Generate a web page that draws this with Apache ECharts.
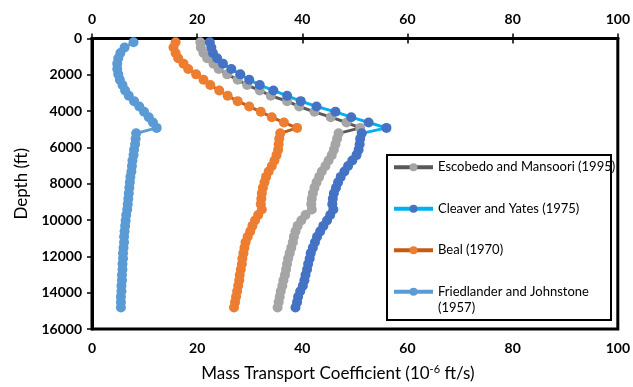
<!DOCTYPE html>
<html>
<head>
<meta charset="utf-8">
<script src="https://cdn.jsdelivr.net/npm/echarts@6/dist/echarts.min.js"></script>
<style>
  html, body { margin: 0; padding: 0; background: #fff; }
  #chart { width: 633px; height: 387px; }
</style>
</head>
<body>
<div id="chart"></div>
<script>
// Depth of each sample (ft)
var depths = [
  200, 495, 790, 1085, 1380, 1675, 1970, 2265, 2560, 2855, 3150, 3445, 3740, 4035, 4330, 4625, 4920,
  5220, 5520, 5820, 6120, 6420, 6720, 7020, 7320, 7620, 7920, 8220, 8520, 8820, 9120, 9420, 9720,
  10020, 10320, 10620, 10920, 11220, 11520, 11820, 12120, 12420, 12720, 13020, 13320, 13620, 13920,
  14220, 14520, 14820
];

// Mass transport coefficient per correlation (1e-6 ft/s)
var escobedo = [
  20.6, 20.7, 21.2, 21.9, 23.1, 24.1, 25.7, 27.7, 29.5, 31.9, 34.0, 37.1, 39.4, 42.3, 45.4, 48.4, 51.0,
  46.9, 46.6, 46.3, 46.0, 45.6, 45.0, 44.4, 43.7, 43.2, 42.7, 42.3, 42.0, 41.8, 41.7, 41.8, 40.6,
  39.8, 39.1, 38.7, 38.4, 38.2, 37.9, 37.6, 37.3, 37.1, 36.9, 36.7, 36.4, 36.2, 35.9,
  35.7, 35.5, 35.3
];
var cleaver = [
  22.4, 22.7, 23.0, 23.8, 24.9, 26.5, 28.2, 29.9, 31.9, 34.5, 37.1, 39.7, 42.7, 46.3, 49.3, 52.6, 56.0,
  51.3, 51.0, 50.9, 50.7, 50.3, 49.5, 48.7, 48.0, 47.3, 46.8, 46.4, 46.0, 45.8, 45.7, 45.9, 45.3,
  44.7, 44.0, 43.4, 42.8, 42.4, 42.0, 41.6, 41.4, 41.1, 40.9, 40.6, 40.4, 40.1, 39.6,
  39.2, 39.0, 38.7
];
var beal = [
  15.9, 15.5, 15.9, 16.4, 17.4, 18.3, 19.8, 21.2, 22.5, 24.2, 25.8, 27.7, 29.9, 32.1, 34.2, 36.5, 39.0,
  35.8, 35.6, 35.5, 35.4, 35.1, 34.7, 34.2, 33.6, 33.1, 32.8, 32.5, 32.3, 32.2, 32.1, 32.3, 31.6,
  31.0, 30.5, 30.1, 29.6, 29.2, 29.0, 28.8, 28.6, 28.5, 28.3, 28.1, 28.0, 27.8, 27.6,
  27.4, 27.2, 27.0
];
var friedlander = [
  7.9, 6.2, 5.4, 5.0, 4.8, 4.8, 5.0, 5.3, 5.8, 6.3, 7.0, 8.0, 9.0, 9.9, 10.8, 11.6, 12.3,
  8.4, 8.3, 8.2, 8.0, 7.9, 7.7, 7.6, 7.5, 7.3, 7.2, 7.1, 7.0, 6.9, 6.8, 6.7, 6.5,
  6.4, 6.3, 6.2, 6.1, 6.1, 6.0, 5.9, 5.9, 5.8, 5.8, 5.7, 5.7, 5.6, 5.6,
  5.5, 5.5, 5.5
];

var seriesNames = [
  'Escobedo and Mansoori (1995)',
  'Cleaver and Yates (1975)',
  'Beal (1970)',
  'Friedlander and Johnstone (1957)'
];

// x ticks, depth ticks
var xTicks = [0, 20, 40, 60, 80, 100];
var depthTicks = [0, 2000, 4000, 6000, 8000, 10000, 12000, 14000, 16000];

var FONT = 'Lato, "Open Sans", sans-serif';

function pairs(vals) {
  return vals.map(function (v, i) { return [v, depths[i]]; });
}

function lineSeries(name, vals, lineColor, markColor) {
  return {
    name: name,
    type: 'line',
    data: pairs(vals),
    symbol: 'circle',
    symbolSize: 10,
    showSymbol: true,
    lineStyle: { color: lineColor, width: 3 },
    itemStyle: { color: markColor },
    emphasis: { disabled: true }
  };
}

var labelStyle = { fontFamily: FONT, fontSize: 14, fontWeight: 'bold', color: '#000' };
var axisLineStyle = { show: true, lineStyle: { color: '#000', width: 3 } };
var tickStyle = { show: true, inside: false, length: 5, lineStyle: { color: '#000', width: 1.5 } };
var legendText = { fontFamily: FONT, fontSize: 13, color: '#000', lineHeight: 16 };

var chart = echarts.init(document.getElementById('chart'), null, { renderer: 'canvas' });

chart.setOption({
  animation: false,
  backgroundColor: '#fff',
  grid: {
    left: 92, right: 11, top: 38.6, bottom: 54,
    show: true, borderColor: '#000', borderWidth: 3, backgroundColor: 'transparent'
  },
  xAxis: [
    {
      type: 'value', position: 'bottom',
      min: xTicks[0], max: xTicks[xTicks.length - 1], interval: xTicks[1] - xTicks[0],
      axisLine: axisLineStyle, axisTick: tickStyle, splitLine: { show: false },
      axisLabel: Object.assign({ margin: 12 }, labelStyle),
      name: 'Mass Transport Coefficient (10{sup|-6} ft/s)',
      nameLocation: 'middle', nameGap: 35,
      nameTextStyle: {
        fontFamily: FONT, fontSize: 17, color: '#000', padding: [0, 34, 0, 0],
        rich: { sup: { fontFamily: FONT, fontSize: 11, color: '#000', verticalAlign: 'top', padding: [0, 0, 8, 0] } }
      }
    },
    {
      type: 'value', position: 'top',
      min: xTicks[0], max: xTicks[xTicks.length - 1], interval: xTicks[1] - xTicks[0],
      axisLine: axisLineStyle, axisTick: tickStyle, splitLine: { show: false },
      axisLabel: Object.assign({ margin: 12 }, labelStyle)
    }
  ],
  yAxis: {
    type: 'value', inverse: true,
    min: depthTicks[0], max: depthTicks[depthTicks.length - 1], interval: depthTicks[1] - depthTicks[0],
    axisLine: axisLineStyle, axisTick: tickStyle, splitLine: { show: false },
    axisLabel: Object.assign({ margin: 10, formatter: function (v) { return String(v); } }, labelStyle),
    name: 'Depth (ft)', nameLocation: 'middle', nameGap: 57,
    nameTextStyle: { fontFamily: FONT, fontSize: 17, color: '#000' }
  },
  graphic: [{
    type: 'rect', z: 3,
    shape: { x: 387, y: 155, width: 224, height: 165 },
    style: { fill: '#fff', stroke: '#000', lineWidth: 2 }
  }],
  legend: [
    {
      orient: 'vertical', left: 392, top: 159.3, padding: 0,
      itemWidth: 39, itemHeight: 10, itemGap: 25.5,
      data: seriesNames.slice(0, 3),
      textStyle: legendText,
      lineStyle: { width: 4 },
      selectedMode: false
    },
    {
      // blank first line keeps the icon level with the first text line
      orient: 'vertical', left: 392, top: 267.7, padding: 0,
      itemWidth: 39, itemHeight: 10,
      data: [seriesNames[3]],
      formatter: function () { return ' \nFriedlander and Johnstone\n(1957)'; },
      textStyle: legendText,
      lineStyle: { width: 4 },
      selectedMode: false
    }
  ],
  series: [
    lineSeries(seriesNames[0], escobedo, '#595959', '#A5A5A5'),
    lineSeries(seriesNames[1], cleaver, '#00B0F0', '#4472C4'),
    lineSeries(seriesNames[2], beal, '#C55A11', '#ED7D31'),
    lineSeries(seriesNames[3], friedlander, '#5B9BD5', '#5B9BD5')
  ]
});
</script>
</body>
</html>
